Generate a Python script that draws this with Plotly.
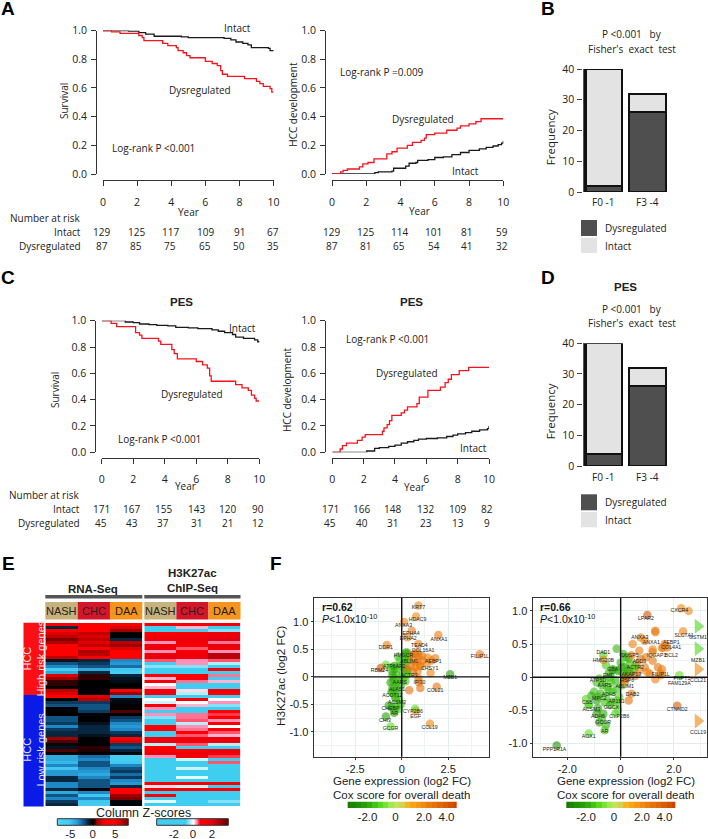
import numpy as np
import plotly.graph_objects as go

W, H = 708, 839
SANS = "Open Sans"
ARIAL = "Liberation Sans"
RED = "#f5141e"
BLACK = "#1a1a1a"

years = [0, 2, 4, 6, 8, 10]
y_ticks = [0, 0.2, 0.4, 0.6, 0.8, 1.0]

# Kaplan-Meier style curves (year, value)
a_surv_intact_x = [0, 1.4, 1.5, 2.1, 2.5, 3.0, 4.6, 5.0, 7.1, 7.5, 7.8, 8.2, 8.5, 8.7, 9.7, 9.8, 10]
a_surv_intact_y = [1, 1, .995, .985, .975, .96, .955, .95, .945, .935, .92, .91, .90, .88, .875, .86, .855]
a_surv_dys_x = [0, .5, 1.0, 2.1, 2.3, 2.4, 3.5, 3.8, 4.3, 4.4, 4.7, 4.9, 5.1, 6.0, 6.4, 6.7, 6.9, 7.0, 7.3, 8.3, 9.0, 9.2, 9.4, 9.8, 9.9, 10]
a_surv_dys_y = [1, .99, .98, .965, .95, .93, .91, .895, .88, .86, .845, .825, .81, .785, .77, .755, .72, .695, .68, .665, .645, .63, .61, .595, .57, .57]
a_hcc_intact_x = [0, 2.5, 2.7, 3.5, 3.6, 4.3, 4.5, 4.9, 5.0, 5.6, 6.0, 6.5, 7.0, 7.5, 8.0, 8.6, 9.0, 9.4, 9.7, 9.9, 10]
a_hcc_intact_y = [0, .01, .015, .02, .04, .055, .075, .08, .095, .1, .115, .12, .135, .15, .165, .175, .185, .195, .205, .215, .23]
a_hcc_dys_x = [0, .5, .65, .9, 1.6, 1.8, 2.1, 2.45, 3.2, 3.5, 3.8, 4.4, 4.7, 5.2, 5.4, 5.5, 6.0, 6.7, 7.3, 7.5, 8.0, 8.4, 8.7, 10]
a_hcc_dys_y = [0, .015, .025, .035, .05, .07, .08, .105, .14, .155, .18, .2, .22, .235, .25, .275, .285, .305, .32, .335, .35, .365, .385, .385]

c_surv_intact_x = [0, 1.0, 1.5, 2.0, 2.4, 3, 3.5, 4.2, 4.7, 5.5, 6.1, 7.0, 7.4, 7.8, 8.3, 8.5, 9, 9.7, 9.9, 10]
c_surv_intact_y = [1, 1, .99, .985, .975, .97, .965, .96, .95, .945, .94, .93, .92, .91, .895, .875, .865, .855, .84, .835]
c_surv_dys_x = [0, .6, .95, 2.15, 2.4, 2.55, 3.6, 3.75, 4.45, 4.6, 4.8, 6.0, 6.4, 6.7, 6.85, 6.95, 8.5, 8.9, 9.3, 9.5, 9.7, 9.8, 10]
c_surv_dys_y = [1, .98, .955, .91, .89, .865, .845, .82, .78, .75, .71, .69, .665, .64, .58, .54, .515, .49, .47, .435, .41, .39, .39]
c_hcc_intact_x = [0, 2.2, 2.7, 3, 3.6, 4.0, 4.4, 4.8, 5.2, 5.5, 6.0, 6.7, 7.3, 7.7, 8, 8.5, 8.9, 9.4, 9.9, 10]
c_hcc_intact_y = [0, .01, .03, .035, .045, .055, .07, .08, .09, .1, .105, .11, .12, .13, .14, .15, .16, .17, .18, .2]
c_hcc_dys_x = [0, .5, .65, .9, 1.6, 1.9, 2.1, 3.2, 3.3, 3.5, 3.65, 3.8, 4.4, 4.6, 4.8, 5.4, 5.55, 6.1, 6.9, 7.2, 7.4, 7.6, 8.1, 8.7, 10]
c_hcc_dys_y = [0, .025, .05, .07, .09, .115, .135, .16, .185, .21, .24, .28, .3, .32, .345, .37, .42, .47, .495, .53, .555, .59, .62, .645, .645]

# Numbers at risk
a_left_intact = [129, 125, 117, 109, 91, 67]
a_left_dys = [87, 85, 75, 65, 50, 35]
a_right_intact = [129, 125, 114, 101, 81, 59]
a_right_dys = [87, 81, 65, 54, 41, 32]
c_left_intact = [171, 167, 155, 143, 120, 90]
c_left_dys = [45, 43, 37, 31, 21, 12]
c_right_intact = [171, 166, 148, 132, 109, 82]
c_right_dys = [45, 40, 31, 23, 13, 9]

# Stacked bars
fib_groups = ["F0 -1", "F3 -4"]
b_dys = [2, 26]
b_intact = [38, 6]
d_dys = [4, 26]
d_intact = [36, 6]

# Heatmaps (rows top to bottom; columns NASH, CHC, DAA)
hm_cols = ["NASH", "CHC", "DAA"]
rna_nash = [3,-1,2.5,2,1.5,.8,1.2,2.5,3,3,3,1.5,-.5,-2,-3,-6,-4,2,1,.3,.3,0,1.5,2,3,0,-1.5,-2,0,0,0,-2,-2,-1.5,-3,-1.5,-1,-1,1,.5,-.2,-.5,.5,0,-4,-4,-4.5,-3,-5,-3.5,-3.5,-1,-1,-3,-3,-1,-4,-2,-3,-1.5,-1]
rna_chc = [3,3,3,1.5,2,1.5,2,1.5,3,1.2,1.5,3,-1,-1.5,-2,-4,-1,.3,.3,0,0,0,0,0,2,1.5,-1.5,-2,-2,-1.5,0,0,0,-.5,-1,-1,-1,-.5,0,0,0,.3,.2,0,-2.5,-3,-2,-2,-3,-3.5,-4,-3,-2,-2,-2,0,-3,-5,-3,-5,-5.5]
rna_daa = [3,2,1,0,0,-1,1.5,1,2,3,3,3,-3,-3.5,-2.5,-5,-6,-1,-.5,-.3,0,0,3,1,-3,-.3,-.2,0,0,.5,0,-1.5,-2,-3,-3.5,-3,-1.5,-1,4,2,-1.5,-2,-1,-.2,-6,-6,-5,-3,-2,-1.5,-2.5,-1.5,-3,-3.5,-1,4,4,1,.8,-.2,-.1]
chip_nash = [1.2,-2,-2.5,1,1.2,1.5,.3,1.5,1.5,.3,1.5,1.8,.5,-1,-.5,-2.5,-2.5,1,.2,1.2,0,.2,1.3,1.3,-2,0,-.2,1,.3,-1,.3,-.5,-1.5,-2.2,.8,1,-1,-1.5,1.5,1.5,-.3,1,1.2,1.5,.3,-2.5,-2.5,-2.5,-2.5,-2.5,-1.5,-2.5,-2.5,1.2,.1,1,-2.5,1,-2.5,-.1,-1]
chip_chc = [1.2,.2,-1,1,1.5,1.5,1.2,1.2,.5,1.1,1.5,1.5,.3,.3,-.5,-2.5,-2.5,1,1,.4,-1,-2.5,.1,-.3,-2.5,1,0,.2,-2.5,-2,.4,.4,.5,-.3,.3,.4,1,.5,1.5,1.5,.5,-2,.8,1.5,1.4,-.2,-2.5,-2.5,-.2,-2.5,-2,-.1,-2.5,1.2,-.2,1,-2.5,-2.5,-2.5,-2.5,-1.5]
chip_daa = [1.2,-1,-.5,1.5,1.5,2,.4,1.8,1.2,.3,2.5,2.5,.5,-.3,-1,1,-2,.4,-1,.2,-2.5,-2.5,1.3,1,-2,0,.3,-.5,-2.5,.8,.6,.8,.3,1,0,1.2,.5,.2,1.5,1.5,-.3,-2.2,1.5,1.5,.6,-2.5,.5,-2.5,-2,-2.5,-2.5,-2.5,-2.5,1.2,-2.5,1,-2.5,-2.5,-2.5,-.5,-2.5]

# Scatter F left: labelled genes
fl_genes = ["KRT7","HDAC9","ANXA3","EPHA4","EPHA2","TEAD4","ANXA1","DDR1","COL16A1","FILIP1L","RBM24","AEBP1","CHSY1","MZB1","IFI30","COL21","CCL19","EGF","CYP2B6","GCGR","CHI3","AR","CHEBP","ACSM3","ACOT12","ALAS1","AARS","ACTR3","ATP6AP2","ABLIM1","HMGCR"]
fl_x = [.9,.77,.13,.54,.3,.9,1.97,-.8,.8,4.2,-1.13,1.8,.98,2.6,.93,1.88,1.52,.75,.72,-.6,-.85,-.4,-.7,-.3,-.5,-.5,-.1,.3,-.4,.2,.2]
fl_y = [1.3,1.1,1.0,.84,.72,.6,.76,.58,.43,.41,.16,.34,.2,.05,-.1,-.18,-.85,-.62,-.58,-.9,-.72,-.6,-.52,-.42,-.28,-.2,-.05,.05,.2,.3,.42]
fl_cox = [2.2,2.2,2.2,2.6,2.4,2.4,2.6,2.6,2.8,2.6,4,2.6,2.4,-2.4,2.6,3,2.2,2.4,-1,-1,-2.4,-1.6,-2,-1.6,-1.6,-1.8,-1.4,-1.4,-2.2,-1.6,-1.8]
fl_lab_x = [.9,.85,.1,.5,.35,.95,2.0,-.85,1.15,4.2,-1.2,1.7,1.5,2.6,.95,1.8,1.5,.75,.6,-.6,-.9,-.4,-.6,-.25,-.5,-.25,-.1,.4,-.4,.4,.1]
fl_lab_y = [1.25,1.04,.93,.79,.7,.57,.68,.53,.48,.36,.11,.28,.15,-.02,-.11,-.25,-.92,-.73,-.64,-.95,-.8,-.67,-.58,-.47,-.34,-.24,-.11,.03,.18,.28,.39]
fl_other_x = [-.2,.25,.3,.4,.15,-.1,.35,-.85,-.55,-.5,-.35,-.1,.1,.3,.25,.05,-.3,-.5,-.4,-.6,-.45,-.25,.05,.2,-.35,-.2,-.05,-.55,-.4,-.2,-.35,-.15,-.05,-.55,-.3,-.4,-.15,.5,.7,.9,1.1,1.4,.6,.85,1.1,1.35,.5,.75,1.0,.85,.6,1.55,1.6,.3,.9,1.0,.4]
fl_other_y = [.37,.45,.42,.38,.33,.3,.3,.22,.17,.1,.15,.2,.18,.12,.05,.08,.05,.03,-.03,-.1,-.08,-.05,-.05,-.08,-.15,-.2,-.15,-.28,-.32,-.3,-.38,-.42,-.5,-.55,-.55,-.65,-.58,.4,.42,.4,.38,.35,.3,.28,.3,.25,.2,.18,.2,.1,.08,.07,.3,.15,-.03,-.2,-.24]
fl_other_cox = [-1.4,-1.8,-2,-1.6,-1.6,-1.4,-1.6,-1,-1.4,-1.6,-1.8,-1.6,-2,-1.8,-1.8,-1.6,-1.8,-2,-1.8,-2.2,-1.8,-1.6,-1.6,-1.4,-1.6,-1.8,-1.6,-1.6,-1.6,-1.8,-1.6,-1.4,-1.4,-2.2,-1.6,-2.2,-1.4,2.6,3,3,2.8,2.4,3,3,2.8,2.4,3,2.8,2.8,2.6,2.8,2.2,2.2,3,2.6,3,3]

# Scatter F right: labelled genes
fr_genes = ["CXCR4","LPAR2","SLC7A1","ANXA3","ANXA1","AEBP1","COL4A1","BCL2","IQGAP1","DUSP5","ADD3","ACTR2","AKAP13","FILIP1L","PNPT1","FAM129A","CTNND2","DAD1","HMG20B","GBA","EMD","ATP5D","AARS","ABLIM1","RSP6","ADH5","DAB2","MPC2","AP1B1","CSB","ACSM3","GGCX","CYP2B6","ADH6","GCGR","AR","AOX1","PPP1R1A"]
fr_x = [2.27,1.0,2.34,.75,1.3,1.65,1.75,1.55,1.2,.4,.75,.55,.35,1.5,2.2,1.5,2.12,-.65,-.65,-.3,-.45,-.8,-.6,.15,.2,-.45,.4,-.85,-.15,-1.3,-1.2,-.35,-.1,-.9,-.7,-.6,-1.2,-2.4]
fr_y = [1.04,.94,.69,.6,.68,.5,.45,.44,.38,.33,.27,.17,.07,.06,.03,.03,-.43,.33,.26,.11,.06,-.02,-.05,-.08,-.02,-.2,-.25,-.3,-.35,-.33,-.42,-.37,-.5,-.55,-.62,-.8,-.85,-1.03]
fr_cox = [2.2,4,2.4,2.4,2.6,2.6,2.6,2.6,2.6,2.6,3,-1.4,-1.8,2.6,-1,2.4,3.8,-1.2,2.6,-2,-1.8,-1.4,-1.4,2.8,3.4,-1.6,2.6,-1.8,-1.4,-1.2,-1.2,-1.6,-1,-2.4,-1.6,-1.4,-1,-2.8]
fr_lab_x = [2.2,.95,2.38,.72,1.15,1.9,1.9,1.9,1.35,.35,.7,.55,.4,1.5,2.3,2.2,2.12,-.65,-.65,-.3,-.45,-.85,-.6,.15,.25,-.45,.45,-.8,-.15,-1.25,-1.1,-.35,-.05,-.85,-.65,-.6,-1.2,-2.48]
fr_lab_y = [1.0,.89,.63,.6,.52,.52,.45,.32,.33,.33,.23,.14,.04,.04,-.02,-.1,-.49,.37,.25,.12,.03,-.05,-.13,-.15,-.05,-.26,-.26,-.33,-.37,-.39,-.49,-.46,-.6,-.6,-.68,-.82,-.9,-1.09]
fr_other_x = [-.15,.1,.2,.3,0,.15,.35,-.1,.1,.25,.5,-.55,-.3,-.1,.05,.2,-.4,-.2,-.9,-.7,-.5,-.35,-.15,.05,-1,-.75,-.55,-.3,-.05,-1.1,-.9,-.6,-.4,-.15,-1.2,-.85,-.65,-.2,-.8,-.55,1.3,1.6,1.2,.9,.95,1.4,.7,1.2,1.55,.9,1.1,.45,.6,.7,1.0,1.3,.35,.55,.3,2.55]
fr_other_y = [.43,.35,.3,.28,.22,.15,.2,.1,.05,.1,.12,.18,.12,.1,.15,.02,.0,-.05,-.08,-.12,-.15,-.08,-.18,-.12,-.22,-.25,-.3,-.22,-.3,-.28,-.35,-.38,-.42,-.42,-.42,-.47,-.55,-.55,-.68,-.72,.7,.45,.42,.55,.3,.15,.4,.25,.12,.15,.05,.5,.2,.1,.08,-.03,.05,.02,-.35,1.0]
fr_other_cox = [-1.8,-1.8,-2,-1.8,-1.6,-2,-1.6,-1.8,-1.8,-2,-1.6,-1.4,-1.8,-1.6,-1.8,-1.8,-1.8,-1.8,-1.6,-1.8,-1.6,-1.4,-1.6,-1.4,-1.6,-1.8,-1.4,-1.4,-1.2,-2,-2.2,-1.6,-1.8,-1,-1.2,-2.2,-2,-1.2,-2.4,-1.8,2.6,2.6,2.4,2.4,2.8,3,2.6,2.8,2.6,2.6,2.4,2.4,3,2.6,2.6,2.4,2.8,3,3,2.2]
fr_out_x = [2.9, 2.9, 2.9, 2.9]
fr_out_y = [.77, .43, .12, -.66]
fr_out_cox = [-1.2, -1.2, 2.2, 2.2]
fr_out_genes = ["GSTM1", "MZB1", "CCL21", "CCL19"]

COX_CS = [[0, "#167a00"], [.19, "#2aa80a"], [.31, "#58e020"], [.43, "#b8ec60"], [.5, "#d8d050"],
          [.56, "#fbb014"], [.7, "#f08a10"], [1, "#cc4400"]]
COX_MIN, COX_MAX = -3.5, 4.5
RNA_MIN, RNA_MAX = -7.9, 7.9
RNA_CS = [[(v - RNA_MIN) / (RNA_MAX - RNA_MIN), c] for v, c in
          [(-7.9, "#50d8f6"), (-5, "#40c8f0"), (-3, "#1e88c7"), (-1.5, "#0a3a60"), (0, "#000000"),
           (1, "#a00000"), (2.5, "#ff0000"), (5, "#ff0000"), (7.9, "#7a0000")]]
CHIP_MIN, CHIP_MAX = -3.8, 3.7
CHIP_CS = [[(v - CHIP_MIN) / (CHIP_MAX - CHIP_MIN), c] for v, c in
           [(-3.8, "#3fcdf0"), (-.8, "#3fcdf0"), (0, "#ffffff"), (.3, "#ff90b8"), (.8, "#ff0000"),
            (2, "#e00010"), (3.7, "#600000")]]

fig = go.Figure()
layout = dict(width=W, height=H, margin=dict(l=0, r=0, t=0, b=0, pad=0, autoexpand=False), paper_bgcolor="white",
              plot_bgcolor="white", showlegend=False)
annots, shapes = [], []
n_ax = [0]

def fx(p): return p / W
def fy(p): return 1 - p / H

def axes(x0, x1, y0, y1, xopts, yopts):
    n_ax[0] += 1
    i = n_ax[0]
    s = "" if i == 1 else str(i)
    xo = dict(domain=[fx(x0), fx(x1)], anchor="y" + s, showgrid=False, zeroline=False, ticks="", showticklabels=False)
    yo = dict(domain=[fy(y1), fy(y0)], anchor="x" + s, showgrid=False, zeroline=False, ticks="", showticklabels=False)
    xo.update(xopts)
    yo.update(yopts)
    layout["xaxis" + s] = xo
    layout["yaxis" + s] = yo
    return "x" + s, "y" + s

def txt(x, y, s, size=10, anchor="center", font=SANS, color="#222222", angle=0):
    annots.append(dict(x=fx(x), y=fy(y), xref="paper", yref="paper", text=s, showarrow=False,
                       xanchor=anchor, yanchor="middle", textangle=angle, align="center",
                       font=dict(family=font, size=size, color=color)))

def rect(x0, x1, y0, y1, color, line=None):
    shapes.append(dict(type="rect", xref="paper", yref="paper", x0=fx(x0), x1=fx(x1), y0=fy(y1), y1=fy(y0),
                       fillcolor=color, line=dict(width=0 if line is None else 1, color=line or color)))

def km(x0px, x10px, ytop, ybot, yaxpx, xaxpx, intact, dys):
    line = dict(showline=True, linecolor="#333333", linewidth=1, ticks="outside", ticklen=5, tickwidth=1,
                tickcolor="#333333", showticklabels=True, tickfont=dict(family=SANS, size=10.5, color="#222222"))
    xa, ya = axes(x0px, x10px, ytop, ybot,
                  dict(range=[0, 10], anchor="free", position=fy(xaxpx), tickvals=years, ticklabelstandoff=7, **line),
                  dict(range=[0, 1], anchor="free", position=fx(yaxpx), tickvals=y_ticks, tickformat=".1f",
                       ticklabelstandoff=2, **line))
    fig.add_trace(go.Scatter(x=intact[0], y=intact[1], mode="lines", line=dict(color=BLACK, width=1.3, shape="hv"),
                             xaxis=xa, yaxis=ya, cliponaxis=False, name="Intact"))
    fig.add_trace(go.Scatter(x=dys[0], y=dys[1], mode="lines", line=dict(color=RED, width=1.3, shape="hv"),
                             xaxis=xa, yaxis=ya, cliponaxis=False, name="Dysregulated"))

# Panel A
km(103, 273.5, 30.5, 174, 96, 180, (a_surv_intact_x, a_surv_intact_y), (a_surv_dys_x, a_surv_dys_y))
km(332, 503.3, 30.5, 174, 325, 180, (a_hcc_intact_x, a_hcc_intact_y), (a_hcc_dys_x, a_hcc_dys_y))
txt(237, 28, "Intact"); txt(200, 90, "Dysregulated"); txt(153, 148, "Log-rank P <0.001")
txt(64, 101, "Survival", angle=-90); txt(292.7, 104, "HCC development", angle=-90)
txt(382, 72, "Log-rank P =0.009"); txt(423, 119, "Dysregulated"); txt(465, 171, "Intact")
txt(188, 212, "Year"); txt(419, 211, "Year")
txt(82, 218, "Number at risk", anchor="right"); txt(82.5, 231.7, "Intact", anchor="right"); txt(82.5, 245.7, "Dysregulated", anchor="right")
for xs, r1, r2 in [([101.7, 136, 170, 205, 239, 272.7], a_left_intact, a_left_dys),
                   ([331.7, 365, 399.3, 434, 467, 501.7], a_right_intact, a_right_dys)]:
    for x, a, b in zip(xs, r1, r2):
        txt(x, 231.7, str(a)); txt(x, 245.7, str(b))

# Panel C
km(101.7, 259.3, 320.7, 452.3, 95.3, 457.7, (c_surv_intact_x, c_surv_intact_y), (c_surv_dys_x, c_surv_dys_y))
km(332.3, 489, 320.7, 452.3, 325, 457.7, (c_hcc_intact_x, c_hcc_intact_y), (c_hcc_dys_x, c_hcc_dys_y))
txt(181, 302, "<b>PES</b>", 11.5, font=ARIAL); txt(411, 302, "<b>PES</b>", 11.5, font=ARIAL)
txt(243, 327.7, "Intact"); txt(192, 394, "Dysregulated"); txt(159, 439, "Log-rank P <0.001")
txt(55, 390, "Survival", angle=-90); txt(287, 390, "HCC development", angle=-90)
txt(388, 339, "Log-rank P <0.001"); txt(406.7, 373, "Dysregulated"); txt(473, 448, "Intact")
txt(185, 486, "Year"); txt(414, 486.7, "Year")
txt(81, 495, "Number at risk", anchor="right"); txt(82, 509.3, "Intact", anchor="right"); txt(82, 522.7, "Dysregulated", anchor="right")
for xs, r1, r2 in [([101, 131.7, 163, 196, 227.7, 258.3], c_left_intact, c_left_dys),
                   ([330, 361.7, 392.7, 425.7, 457.7, 487.3], c_right_intact, c_right_dys)]:
    for x, a, b in zip(xs, r1, r2):
        txt(x, 509.3, str(a)); txt(x, 522.7, str(b))

# Panels B and D
def bars(ytop, ybot, dys, intact, ttl_y, leg_y, lab_y):
    xa, ya = axes(582.5, 670, ytop, ybot,
                  dict(range=[-.49, 1.52]),
                  dict(range=[0, 40], anchor="free", position=fx(582.5), showline=True, linecolor="#555555", linewidth=1.3,
                       ticks="outside", ticklen=5, tickcolor="#444444", tickvals=[0, 10, 20, 30, 40], showticklabels=True,
                       ticklabelstandoff=1, tickfont=dict(family=SANS, size=10.5, color="#222222")))
    bl = dict(color="#111111", width=2.2)
    fig.add_trace(go.Bar(x=[0, 1], y=dys, width=.84, marker=dict(color="#4f4f4f", line=bl), xaxis=xa, yaxis=ya, name="Dysregulated", cliponaxis=False))
    fig.add_trace(go.Bar(x=[0, 1], y=intact, width=.84, marker=dict(color="#e3e3e3", line=bl), xaxis=xa, yaxis=ya, name="Intact", cliponaxis=False))
    txt(631.7, ttl_y, "P <0.001   by"); txt(631.7, ttl_y + 14.4, "Fisher's  exact  test")
    txt(550.7, (ytop + ybot) / 2 + 7, "Frequency", 11.5, angle=-90)
    txt(602.7, lab_y, fib_groups[0]); txt(647, lab_y, fib_groups[1])
    rect(581, 597, leg_y, leg_y + 16, "#4f4f4f"); rect(581, 597, leg_y + 17.7, leg_y + 33, "#e3e3e3")
    txt(603, leg_y + 8, "Dysregulated", anchor="left"); txt(603, leg_y + 25.7, "Intact", anchor="left")

layout["barmode"] = "stack"
bars(69, 192, b_dys, b_intact, 34.3, 220, 202)
bars(343.3, 466, d_dys, d_intact, 309, 494.3, 476.7)
txt(625, 287, "<b>PES</b>", 11.5, font=ARIAL)

# Panel E
def heat(x0, x1, z, cs, zmin, zmax):
    xa, ya = axes(x0, x1, 623, 806, dict(type="category"), dict(autorange="reversed"))
    fig.add_trace(go.Heatmap(x=hm_cols, y=list(range(len(z))), z=z, colorscale=cs, zmin=zmin, zmax=zmax,
                             showscale=False, xaxis=xa, yaxis=ya))

rna_z = [list(r) for r in zip(rna_nash, rna_chc, rna_daa)]
chip_z = [list(r) for r in zip(chip_nash, chip_chc, chip_daa)]
heat(45.3, 142.3, rna_z, RNA_CS, RNA_MIN, RNA_MAX)
heat(144.3, 240.5, chip_z, CHIP_CS, CHIP_MIN, CHIP_MAX)
rect(23.5, 43.7, 622.7, 695, "#fb0f14"); rect(23.5, 43.7, 695, 806.5, "#0a1be8")
txt(33.5, 659, "HCC<br>High risk genes", 11, font=ARIAL, color="#f4e4e4", angle=-90)
txt(33.5, 750, "HCC<br>Low risk genes", 11, font=ARIAL, color="#e4e4f4", angle=-90)
for x0, x1 in [(45.3, 142.3), (144.3, 240.5)]:
    rect(x0, x1, 595, 598.5, "#555555")
    w = (x1 - x0) / 3
    for k, (name, c) in enumerate(zip(hm_cols, ["#c8b27c", "#d6152a", "#f7941d"])):
        rect(x0 + k * w, x0 + (k + 1) * w, 602, 619.5, c)
        txt(x0 + (k + .5) * w, 611, name, 11, font=ARIAL, color="#222222")
txt(93.3, 589, "<b>RNA-Seq</b>", 11.5, font=ARIAL)
txt(192.3, 573.3, "<b>H3K27ac</b>", 11.5, font=ARIAL); txt(192.3, 588.3, "<b>ChIP-Seq</b>", 11.5, font=ARIAL)
txt(143.3, 813, "Column Z-scores", 12.5, font=ARIAL)

def hbar(x0, x1, y0, y1, lo, hi, cs, ticks, step):
    xs = np.arange(lo, hi + step, step)
    xa, ya = axes(x0, x1, y0, y1,
                  dict(range=[lo, hi], showticklabels=True, tickvals=ticks[0], ticktext=ticks[1], ticks="",
                       ticklabelstandoff=ticks[2], tickfont=dict(family=ARIAL, size=ticks[3], color="#222222")),
                  dict(range=[0, 1]))
    fig.add_trace(go.Heatmap(x=xs, y=[0, 1], z=[list(xs), list(xs)], colorscale=cs, zmin=cs_rng[0], zmax=cs_rng[1],
                             showscale=False, xaxis=xa, yaxis=ya))

cs_rng = (RNA_MIN, RNA_MAX)
hbar(57.3, 128.3, 818.7, 825.3, RNA_MIN, RNA_MAX, RNA_CS, ([-5, 0, 5], ["-5", "0", "5"], 0, 11.5), .2)
rect(57.3, 128.3, 818.7, 825.3, "rgba(0,0,0,0)", line="#333333")
cs_rng = (CHIP_MIN, CHIP_MAX)
hbar(156.7, 228.3, 818.7, 825.3, CHIP_MIN, CHIP_MAX, CHIP_CS, ([-2, 0, 2], ["-2", "0", "2"], 0, 11.5), .1)
rect(156.7, 228.3, 818.7, 825.3, "rgba(0,0,0,0)", line="#333333")

# Panel F
def scatter(x0, x1, y0, y1, xr, yr, xticks, xtext, yticks, ytext, minor_x, minor_y, pts, labs):
    frame = dict(showline=True, mirror=True, linecolor="#333333", linewidth=1.2, ticks="outside", ticklen=2,
                 tickcolor="#333333", showgrid=True, gridcolor="#e4edee", gridwidth=1, showticklabels=True,
                 tickfont=dict(family=ARIAL, size=11, color="#222222"))
    xa, ya = axes(x0, x1, y0, y1,
                  dict(range=xr, tickvals=xticks, ticktext=xtext, minor=dict(tickvals=minor_x, showgrid=True, gridcolor="#eef3f4", ticks=""), **frame),
                  dict(range=yr, tickvals=yticks, ticktext=ytext, minor=dict(tickvals=minor_y, showgrid=True, gridcolor="#eef3f4", ticks=""), **frame))
    for (px, py, pc) in pts:
        fig.add_trace(go.Scatter(x=px, y=py, mode="markers", xaxis=xa, yaxis=ya, cliponaxis=False,
                                 marker=dict(size=8.5, color=pc, colorscale=COX_CS, cmin=COX_MIN, cmax=COX_MAX, opacity=.6, line=dict(width=0))))
    fig.add_trace(go.Scatter(x=labs[0], y=labs[1], text=labs[2], mode="text", xaxis=xa, yaxis=ya, cliponaxis=False,
                             textfont=dict(family=ARIAL, size=5.2, color="#222222"), textposition="middle center"))
    dom = ya + " domain"
    domx = xa + " domain"
    shapes.append(dict(type="line", xref=xa, yref=dom, x0=0, x1=0, y0=0, y1=1, line=dict(color="#111111", width=1.4), layer="above"))
    shapes.append(dict(type="line", xref=domx, yref=ya, x0=0, x1=1, y0=0, y1=0, line=dict(color="#111111", width=1.4), layer="above"))
    return xa, ya

scatter(313.7, 489, 597.7, 756.7, [-4.73, 4.69], [-1.45, 1.44],
        [-2.5, 0, 2.5], ["-2.5", "0", "2.5"], [-1, -.5, 0, .5, 1], ["-1.0", "-0.5", "0", "0.5", "1.0"],
        [-3.75, -1.25, 1.25, 3.75], [-1.25, -.75, -.25, .25, .75, 1.25],
        [(fl_other_x, fl_other_y, fl_other_cox), (fl_x, fl_y, fl_cox)], (fl_lab_x, fl_lab_y, fl_genes))
xa, ya = scatter(532.7, 707.3, 597.7, 756.7, [-3.3, 3.25], [-1.2, 1.2],
        [-2, 0, 2], ["-2.0", "0", "2.0"], [-1, -.5, 0, .5, 1], ["-1.0", "-0.5", "0", "0.5", "1.0"],
        [-3, -1, 1, 3], [-.75, -.25, .25, .75],
        [(fr_other_x, fr_other_y, fr_other_cox), (fr_x, fr_y, fr_cox)], (fr_lab_x, fr_lab_y, fr_genes))
fig.add_trace(go.Scatter(x=fr_out_x, y=fr_out_y, mode="markers+text", text=fr_out_genes, textposition="bottom center",
                         textfont=dict(family=ARIAL, size=5.2, color="#222222"), xaxis=xa, yaxis=ya, cliponaxis=False,
                         marker=dict(symbol="triangle-right", size=13, color=fr_out_cox, colorscale=COX_CS, cmin=COX_MIN, cmax=COX_MAX, opacity=.6, line=dict(width=0))))
txt(320, 607.3, "<b>r=0.62</b>", 10.5, anchor="left", font=ARIAL, color="#111111")
txt(320, 618, "<i>P</i>&lt;1.0x10<sup>-10</sup>", 10.5, anchor="left", font=ARIAL, color="#111111")
txt(538.3, 607.3, "<b>r=0.66</b>", 10.5, anchor="left", font=ARIAL, color="#111111")
txt(538.3, 618, "<i>P</i>&lt;1.0x10<sup>-10</sup>", 10.5, anchor="left", font=ARIAL, color="#111111")
txt(280, 676, "H3K27ac (log2 FC)", 11.7, font=ARIAL, angle=-90)
txt(401.7, 781, "Gene expression (log2 FC)", 11.5, font=ARIAL); txt(401, 795.3, "Cox score for overall death", 11.5, font=ARIAL)
txt(626, 781, "Gene expression (log2 FC)", 11.5, font=ARIAL); txt(625.3, 795.3, "Cox score for overall death", 11.5, font=ARIAL)

cs_rng = (COX_MIN, COX_MAX)
hbar(347.7, 456.7, 801.7, 808, COX_MIN, COX_MAX, COX_CS, ([-2.05, 0, 2.1, 3.75], ["-2.0", "0", "2.0", "4.0"], 0, 11.5), .4)
hbar(566.3, 675.3, 801.7, 808, COX_MIN, COX_MAX, COX_CS, ([-2.05, 0, 2.05, 3.7], ["-2.0", "0", "2.0", "4.0"], 0, 11.5), .4)

# Panel letters
for s, x, y in [("A", 8, 9), ("B", 548, 9), ("C", 8, 277), ("D", 548, 277), ("E", 8, 563), ("F", 276, 563)]:
    txt(x, y, "<b>%s</b>" % s, 19, font=ARIAL, color="#000000")

layout["annotations"] = annots
layout["shapes"] = shapes
fig.update_layout(**layout)
fig.write_html("out.html", config=dict(displayModeBar=False), post_script="document.body.style.margin='0';")
